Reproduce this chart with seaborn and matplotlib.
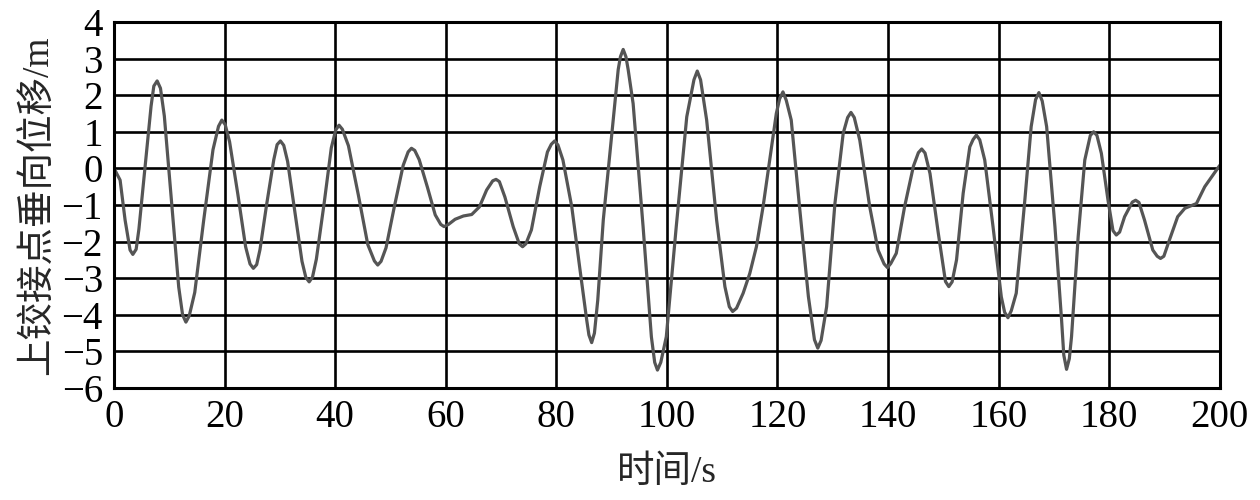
import matplotlib
matplotlib.use("Agg")
import matplotlib.pyplot as plt
import seaborn as sns
import pandas as pd

# time (s) and vertical displacement (m)
t = [0.0, 1.1, 2.0, 2.9, 3.4, 4.0, 4.5, 5.6, 6.7, 7.2, 7.8, 8.4, 9.1, 10.4, 11.7, 12.4, 13.0,
     13.6, 14.6, 16.2, 17.9, 18.9, 19.5, 20.1, 20.9, 22.4, 23.8, 24.6, 25.2, 25.8, 26.4, 27.6,
     28.9, 29.5, 30.1, 30.7, 31.4, 32.7, 34.0, 34.7, 35.3, 35.9, 36.6, 38.0, 39.3, 40.1, 40.7,
     41.3, 42.4, 44.2, 45.9, 47.1, 47.7, 48.3, 49.2, 50.7, 52.3, 53.2, 53.8, 54.4, 55.2, 56.7,
     58.1, 59.1, 59.7, 60.5, 61.7, 63.2, 64.7, 66.1, 67.4, 68.5, 69.1, 69.7, 70.7, 72.2, 73.3,
     73.9, 74.5, 75.5, 77.0, 78.4, 79.1, 79.7, 80.3, 81.2, 82.8, 84.3, 85.5, 85.9, 86.4, 86.9,
     87.5, 88.5, 89.4, 90.3, 91.2, 91.6, 92.1, 92.6, 93.0, 93.9, 94.8, 95.7, 96.5, 97.2, 97.8,
     98.3, 98.9, 99.9, 101.7, 103.6, 104.9, 105.5, 106.1, 107.2, 109.0, 110.5, 111.3, 111.9,
     112.6, 113.8, 115.0, 116.2, 117.4, 118.6, 119.8, 120.4, 121.0, 121.6, 122.5, 124.0, 125.6,
     126.7, 127.3, 127.9, 128.9, 130.4, 131.9, 132.7, 133.3, 133.9, 134.9, 136.7, 138.2, 139.3,
     139.9, 140.5, 141.5, 143.0, 144.6, 145.5, 146.1, 146.7, 147.6, 149.1, 150.4, 151.0, 151.6,
     152.4, 153.6, 154.8, 155.4, 156.0, 156.6, 157.5, 159.0, 160.5, 161.1, 161.7, 162.3, 163.2,
     164.7, 165.9, 166.7, 167.3, 167.9, 168.7, 170.2, 171.4, 171.8, 172.3, 172.8, 173.2, 174.4,
     175.6, 176.6, 177.2, 177.8, 178.6, 179.8, 180.7, 181.3, 181.9, 182.8, 184.2, 184.8, 185.4,
     186.4, 187.9, 188.7, 189.3, 189.9, 190.9, 192.4, 193.7, 195.8, 197.3, 200.0]
disp = [0.00, -0.32, -1.41, -2.23, -2.35, -2.21, -1.66, 0.02, 1.70, 2.25, 2.39, 2.19, 1.43, -0.91,
        -3.24, -4.00, -4.20, -4.03, -3.39, -1.44, 0.51, 1.15, 1.32, 1.20, 0.73, -0.71, -2.14, -2.61,
        -2.73, -2.63, -2.22, -0.99, 0.24, 0.65, 0.75, 0.63, 0.19, -1.18, -2.54, -2.98, -3.10, -2.97,
        -2.48, -0.96, 0.56, 1.05, 1.18, 1.07, 0.62, -0.73, -2.08, -2.53, -2.64, -2.54, -2.17, -1.05,
        0.08, 0.45, 0.55, 0.49, 0.24, -0.52, -1.27, -1.53, -1.59, -1.53, -1.39, -1.30, -1.26, -1.05,
        -0.59, -0.34, -0.30, -0.36, -0.78, -1.59, -2.06, -2.14, -2.06, -1.68, -0.50, 0.45, 0.66, 0.75,
        0.64, 0.23, -1.05, -2.78, -4.14, -4.55, -4.76, -4.50, -3.60, -1.41, -0.05, 1.32, 2.70, 3.05,
        3.25, 3.05, 2.70, 1.77, 0.09, -1.59, -3.20, -4.60, -5.30, -5.51, -5.30, -4.60, -1.59, 1.41,
        2.42, 2.66, 2.42, 1.32, -1.41, -3.23, -3.78, -3.91, -3.82, -3.41, -2.87, -2.14, -1.05, 0.23,
        1.50, 1.90, 2.09, 1.86, 1.32, -1.05, -3.50, -4.68, -4.91, -4.70, -3.78, -0.96, 0.96, 1.39,
        1.53, 1.39, 0.77, -1.05, -2.23, -2.61, -2.71, -2.60, -2.32, -1.05, 0.06, 0.43, 0.53, 0.42,
        -0.14, -1.77, -3.09, -3.23, -3.10, -2.50, -0.68, 0.59, 0.79, 0.91, 0.78, 0.23, -1.59, -3.51,
        -3.93, -4.08, -3.89, -3.41, -0.96, 1.14, 1.88, 2.07, 1.84, 1.14, -1.59, -4.14, -5.10, -5.49,
        -5.20, -4.60, -1.87, 0.23, 0.90, 1.00, 0.90, 0.41, -0.87, -1.70, -1.82, -1.74, -1.32, -0.92,
        -0.87, -0.93, -1.41, -2.23, -2.40, -2.46, -2.40, -1.96, -1.32, -1.09, -0.96, -0.50, 0.08]

xticks = list(range(0, 201, 20))
yticks = list(range(-6, 5))

df = pd.DataFrame({"t": t, "disp": disp})

sns.set_style("white")
plt.rcParams["font.family"] = ["Liberation Serif", "Noto Sans CJK SC"]
plt.rcParams["axes.unicode_minus"] = True

fig = plt.figure(figsize=(12.6, 5), dpi=100)
ax = fig.add_axes([0.0905, 0.224, 0.8775, 0.732])

line_kws = dict(solid_joinstyle="round", solid_capstyle="round")
sns.lineplot(data=df, x="t", y="disp", color="#555555", linewidth=2.3, ax=ax, sort=False, **line_kws)

ax.set_xlim(0, 200)
ax.set_ylim(-6, 4)
ax.set_xticks(xticks)
ax.set_yticks(yticks)
ax.grid(True, color="black", linewidth=1.9)
ax.set_axisbelow(True)
for s in ax.spines.values():
    s.set_color("black")
    s.set_linewidth(2.2)
ax.tick_params(length=0, labelsize=28, pad=8, colors="black")
ax.set_xlabel("时间/s", fontsize=27, labelpad=14)
ax.set_ylabel("上铰接点垂向位移/m", fontsize=27, labelpad=4)

fig.savefig("out.png", dpi=100)
